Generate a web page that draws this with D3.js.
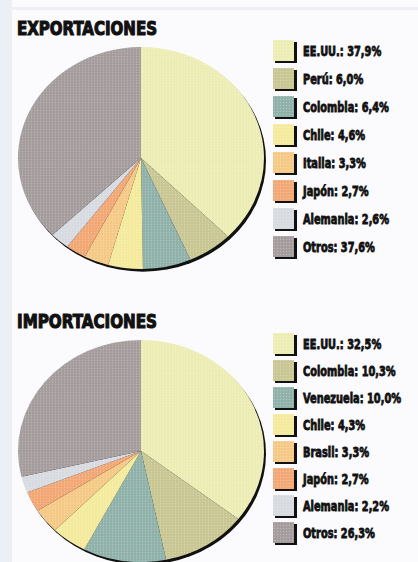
<!DOCTYPE html>
<html>
<head>
<meta charset="utf-8">
<script src="https://cdn.jsdelivr.net/npm/d3@7"></script>
<style>
  body { margin: 0; background: #fbfbfd; }
  svg { display: block; }
  .title { font-family: "DejaVu Sans Condensed", "DejaVu Sans", sans-serif; font-weight: bold; fill: #111; stroke: #111; stroke-width: 1.1; }
  .lbl { font-family: "DejaVu Sans Condensed", "DejaVu Sans", sans-serif; font-weight: bold; fill: #111; stroke: #111; stroke-width: 0.8; }
</style>
</head>
<body>
<div id="chart"></div>
<script>
// data
const expLabels = ["EE.UU.", "Perú", "Colombia", "Chile", "Italia", "Japón", "Alemania", "Otros"];
const expValues = [37.9, 6.0, 6.4, 4.6, 3.3, 2.7, 2.6, 37.6];
const impLabels = ["EE.UU.", "Colombia", "Venezuela", "Chile", "Brasil", "Japón", "Alemania", "Otros"];
const impValues = [32.5, 10.3, 10.0, 4.3, 3.3, 2.7, 2.2, 26.3];
const sliceColors = ["#ecedb4", "#c8c692", "#8fb1a9", "#f4ea9c", "#f5c985", "#f2a774", "#d7dae0", "#a49c9c"];

const width = 418, height = 562;
const svg = d3.select("#chart").append("svg")
    .attr("width", width)
    .attr("height", height);

// page background with pale strips
svg.append("rect").attr("width", width).attr("height", height).attr("fill", "#fbfbfd");
svg.append("rect").attr("x", 0).attr("y", 0).attr("width", 12).attr("height", height).attr("fill", "#eceff6");
svg.append("rect").attr("x", 12).attr("y", 7).attr("width", width).attr("height", 3).attr("fill", "#eef0f6");

// halftone-ish dot texture
const defs = svg.append("defs");
const pat = defs.append("pattern")
    .attr("id", "dots")
    .attr("width", 3).attr("height", 3)
    .attr("patternUnits", "userSpaceOnUse");
pat.append("circle").attr("cx", 1.5).attr("cy", 1.5).attr("r", 0.7).attr("fill", "#fff").attr("opacity", 0.3);

const fmt = v => d3.format(".1f")(v).replace(".", ",") + "%";

function drawBlock(title, labels, values, top, rowStep) {
    const g = svg.append("g");
    const cx = 141, cy = top + 140, rx = 123, ry = 111;

    g.append("text")
        .attr("class", "title")
        .attr("x", 17)
        .attr("y", top + 17)
        .attr("font-size", 19)
        .attr("textLength", 140)
        .attr("lengthAdjust", "spacingAndGlyphs")
        .text(title);

    const data = labels.map((l, i) => ({ label: l, value: values[i], color: sliceColors[i] }));
    const pie = d3.pie().sort(null).value(d => d.value);
    const arc = d3.arc().innerRadius(0).outerRadius(rx);

    const pg = g.append("g")
        .attr("transform", "translate(" + cx + "," + cy + ") scale(1," + (ry / rx) + ")");

    // dark shadow edge
    pg.append("circle")
        .attr("cx", 2).attr("cy", 3)
        .attr("r", rx)
        .attr("fill", "#111");

    pg.selectAll("path.slice")
        .data(pie(data))
        .enter()
        .append("path")
        .attr("class", "slice")
        .attr("d", arc)
        .attr("fill", d => d.data.color);

    pg.append("circle").attr("r", rx).attr("fill", "url(#dots)");

    // legend
    const y = d3.scalePoint().domain(labels).range([top + 33, top + 33 + rowStep * (labels.length - 1)]);
    const rows = g.selectAll("g.row")
        .data(data)
        .enter()
        .append("g")
        .attr("class", "row")
        .attr("transform", d => "translate(273," + y(d.label) + ")");

    rows.append("rect")
        .attr("x", 2).attr("y", -9)
        .attr("width", 22).attr("height", 21)
        .attr("fill", "#111");
    rows.append("rect")
        .attr("x", 0).attr("y", -11)
        .attr("width", 21).attr("height", 21)
        .attr("fill", d => d.color);
    rows.append("rect")
        .attr("x", 0).attr("y", -11)
        .attr("width", 21).attr("height", 21)
        .attr("fill", "url(#dots)");

    rows.append("text")
        .attr("class", "lbl")
        .attr("transform", "translate(30,5) scale(0.78,1)")
        .attr("font-size", 14)
        .text(d => d.label + ": " + fmt(d.value));
}

drawBlock("EXPORTACIONES", expLabels, expValues, 18, 28);
drawBlock("IMPORTACIONES", impLabels, impValues, 311, 27);
</script>
</body>
</html>
